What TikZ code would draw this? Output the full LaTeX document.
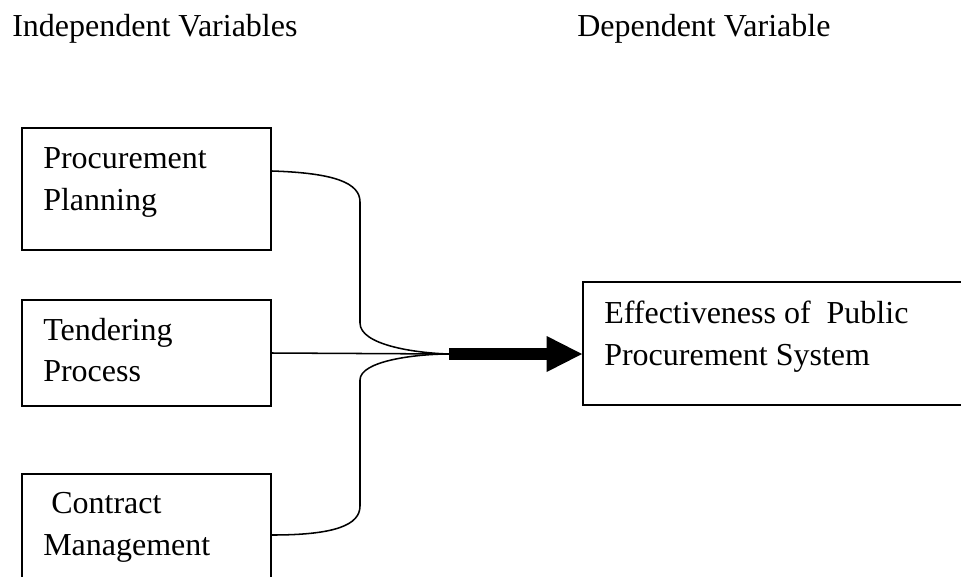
\documentclass[tikz,border=0pt]{standalone}
\usepackage{fontspec}
\setmainfont{Liberation Serif}
\usetikzlibrary{arrows.meta,fit,calc}
\begin{document}
\begin{tikzpicture}[x=0.75pt,y=-0.75pt,
  box/.style={draw,line width=1.5pt,inner sep=0pt},
  lbl/.style={anchor=base west,inner sep=0pt,font=\fontsize{24}{31.5}\selectfont},
  conn/.style={line width=1.15pt}]
\useasboundingbox (0,0) rectangle (961,576);
\clip (0,0) rectangle (961,576);
\node[lbl] (iv) at (12,36) {Independent Variables};
\node[lbl] (dv) at (577,36) {Dependent Variable};
\node[box,fit={(22,128)(271,250)}] (pp) {};
\node[box,fit={(22,300)(271,406)}] (tp) {};
\node[box,fit={(22,474)(271,600)}] (cm) {};
\node[box,fit={(583,282)(975,405)}] (eff) {};
\node[lbl] (t1) at (43,168) {Procurement};
\node[lbl] (t2) at (43,210) {Planning};
\node[lbl] (t3) at (43,340) {Tendering};
\node[lbl] (t4) at (43,381) {Process};
\node[lbl] (t5) at (51,513) {Contract};
\node[lbl] (t6) at (43,555) {Management};
\node[lbl] (t7) at (604,323) {Effectiveness of\ \ Public};
\node[lbl] (t8) at (604,365) {Procurement System};
\coordinate (m) at (449,354);
\coordinate (tgt) at (eff.west |- m);
\draw[conn] ($(pp.north east)+(0,44)$) .. controls (335,173) and (360,183) .. (360,202) -- (360,323) .. controls (360,345) and (415,353) .. (m);
\draw[conn] (tp.east) -- (m);
\draw[conn] ($(cm.north east)+(0,62)$) .. controls (335,535) and (360,525) .. (360,506) -- (360,380) .. controls (360,361) and (415,354) .. (m);
\draw[line width=9pt,-{Triangle[length=26.5pt,width=27pt,line width=0pt]}] (m) -- (tgt);
\end{tikzpicture}
\end{document}
